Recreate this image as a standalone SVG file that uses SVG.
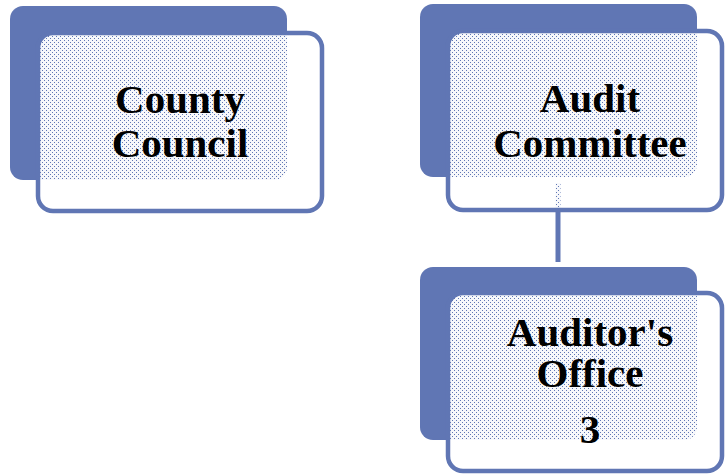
<svg xmlns="http://www.w3.org/2000/svg" width="725" height="475" viewBox="0 0 725 475">
<defs>
<pattern id="stip" patternUnits="userSpaceOnUse" x="0" y="0" width="4" height="4">
<path d="M0 0h4v4h-4z M0 0h1v1h-1z M2 2h1v1h-1z" fill="#ffffff" fill-opacity="0.95" fill-rule="evenodd"/>
</pattern>
</defs>
<style>
.back{fill:#6076B4;}
.front{fill:url(#stip);stroke:#6076B4;stroke-width:4.5;}
.conn{stroke:#6076B4;stroke-width:5;fill:none;}
text{font-family:"Liberation Serif","Times New Roman",serif;font-weight:bold;font-size:41px;fill:#000;text-anchor:middle;}
</style>
<rect width="725" height="475" fill="#ffffff"/>
<g id="connectors">
<line class="conn" x1="558" y1="183" x2="558" y2="262"/>
</g>
<g id="county-council">
<rect class="back" x="10" y="6" width="277" height="174" rx="13"/>
<rect class="front" x="38" y="33" width="284" height="178" rx="15"/>
<text x="180" y="113">County</text>
<text x="180" y="157">Council</text>
</g>
<g id="audit-committee">
<rect class="back" x="420" y="4" width="277" height="173" rx="13"/>
<rect class="front" x="448" y="31" width="274" height="179" rx="15"/>
<text x="590" y="112">Audit</text>
<text x="590" y="157">Committee</text>
</g>
<g id="auditors-office">
<rect class="back" x="420" y="267" width="277" height="173" rx="13"/>
<rect class="front" x="448" y="293" width="274" height="178" rx="15"/>
<text x="590" y="346">Auditor's</text>
<text x="590" y="387">Office</text>
<text x="590" y="443">3</text>
</g>
</svg>
